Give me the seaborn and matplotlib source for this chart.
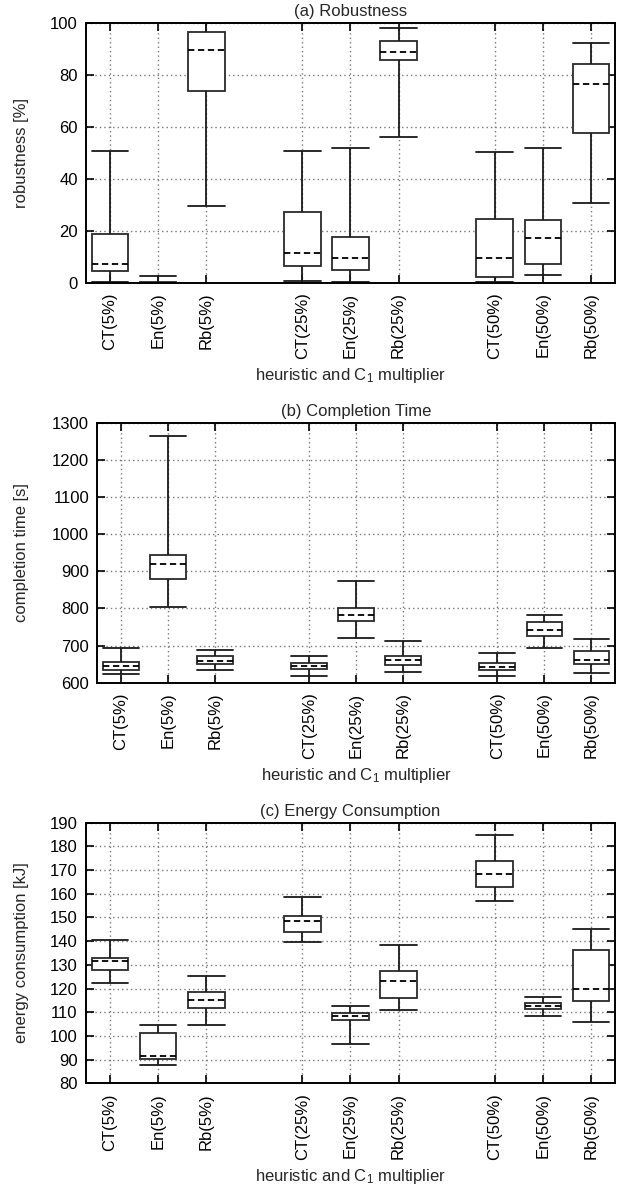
import numpy as np
import pandas as pd
import matplotlib
matplotlib.use("Agg")
import matplotlib.pyplot as plt
import seaborn as sns

# ---------------- data ----------------
categories = ["CT(5%)", "En(5%)", "Rb(5%)",
              "CT(25%)", "En(25%)", "Rb(25%)",
              "CT(50%)", "En(50%)", "Rb(50%)"]
positions = [1, 2, 3, 5, 6, 7, 9, 10, 11]

# (a) robustness [%] : whisker low, q1, median, q3, whisker high
rob_low  = [0.4, 0.0, 29.7, 0.5, 0.1, 56.2, 0.3, 2.9, 30.8]
rob_q1   = [4.5, 0.0, 73.8, 6.5, 4.9, 85.6, 2.3, 7.1, 57.6]
rob_med  = [7.3, 0.0, 89.7, 11.4, 9.7, 88.6, 9.6, 17.2, 76.4]
rob_q3   = [18.8, 0.3, 96.5, 27.4, 17.7, 93.1, 24.5, 24.1, 84.2]
rob_high = [50.5, 2.6, 99.9, 50.6, 51.7, 97.9, 50.3, 51.9, 92.2]

# (b) completion time [s]
ct_low  = [623, 804, 633, 617, 719, 629, 617, 692, 627]
ct_q1   = [634, 879, 650, 638, 765, 647, 634, 726, 650]
ct_med  = [645, 919, 659, 646, 782, 660, 643, 742, 661]
ct_q3   = [655, 943, 671, 653, 801, 671, 652, 762, 686]
ct_high = [693, 1264, 688, 672, 873, 713, 680, 782, 717]

# (c) energy consumption [kJ]
en_low  = [122.2, 87.7, 104.8, 139.5, 96.6, 111.0, 157.0, 108.6, 106.0]
en_q1   = [127.8, 90.4, 111.8, 143.9, 106.6, 116.0, 163.0, 111.5, 114.6]
en_med  = [131.6, 91.7, 115.0, 148.4, 108.4, 123.1, 168.5, 112.5, 120.0]
en_q3   = [133.0, 101.1, 118.4, 150.8, 109.8, 127.4, 174.0, 113.8, 136.4]
en_high = [140.4, 104.8, 125.4, 158.6, 112.6, 138.5, 184.8, 116.3, 145.1]

panels = [
    ("(a) Robustness", "robustness [%]",
     [rob_low, rob_q1, rob_med, rob_q3, rob_high], (0, 100), np.arange(0, 101, 20)),
    ("(b) Completion Time", "completion time [s]",
     [ct_low, ct_q1, ct_med, ct_q3, ct_high], (600, 1300), np.arange(600, 1301, 100)),
    ("(c) Energy Consumption", "energy consumption [kJ]",
     [en_low, en_q1, en_med, en_q3, en_high], (80, 190), np.arange(80, 191, 10)),
]

# ---------------- style ----------------
sns.set_theme(style="ticks")
plt.rcParams["font.family"] = ["Liberation Sans", "DejaVu Sans"]
plt.rcParams["mathtext.default"] = "regular"
FS = 12
plt.rcParams["font.size"] = FS

W, H = 621, 1186
fig = plt.figure(figsize=(W / 100, H / 100), dpi=100)
axes_rects = [
    [0.1385, 0.7616, 0.8518, 0.2192],
    [0.1570, 0.4244, 0.8333, 0.2192],
    [0.1385, 0.0866, 0.8518, 0.2197],
]

for (title, ylabel, stats, ylim, yticks), rect in zip(panels, axes_rects):
    ax = fig.add_axes(rect)
    rows = []
    for i, pos in enumerate(positions):
        for s in stats:
            rows.append({"pos": pos, "value": s[i]})
    df = pd.DataFrame(rows)

    ax.set_axisbelow(True)
    ax.grid(True, color="#7a7a7a", linestyle=(0, (1, 2.2)), linewidth=1.0)

    sns.boxplot(data=df, x="pos", y="value", native_scale=True, ax=ax,
                whis=(0, 100), width=0.76, fill=True, color="white",
                linecolor="#1a1a1a", linewidth=1.3, showfliers=False,
                capwidths=0.76,
                medianprops=dict(linestyle=(0, (3.5, 2)), linewidth=1.3, color="black"),
                boxprops=dict(facecolor="white", edgecolor="#2a2a2a", zorder=2))

    ax.set_xlim(0.5, 11.5)
    ax.set_ylim(*ylim)
    ax.set_yticks(yticks)
    ax.set_xticks(positions)
    ax.set_xticklabels(categories, rotation=90)
    ax.tick_params(direction="in", top=True, right=True, length=6, width=1.2,
                   colors="black", labelsize=FS)
    ax.tick_params(axis="x", pad=7)
    ax.tick_params(axis="y", pad=6)
    for sp in ax.spines.values():
        sp.set_linewidth(1.4)
        sp.set_color("black")
    ax.set_title(title, fontsize=FS, pad=5)
    ax.set_ylabel(ylabel, fontsize=FS)
    left_px = rect[0] * W
    width_px = rect[2] * W
    ax.yaxis.set_label_coords((29 - left_px) / width_px, 0.5)
    ax.set_xlabel("heuristic and C$_1$ multiplier", fontsize=FS, labelpad=5)

fig.savefig("out.png", dpi=100)
